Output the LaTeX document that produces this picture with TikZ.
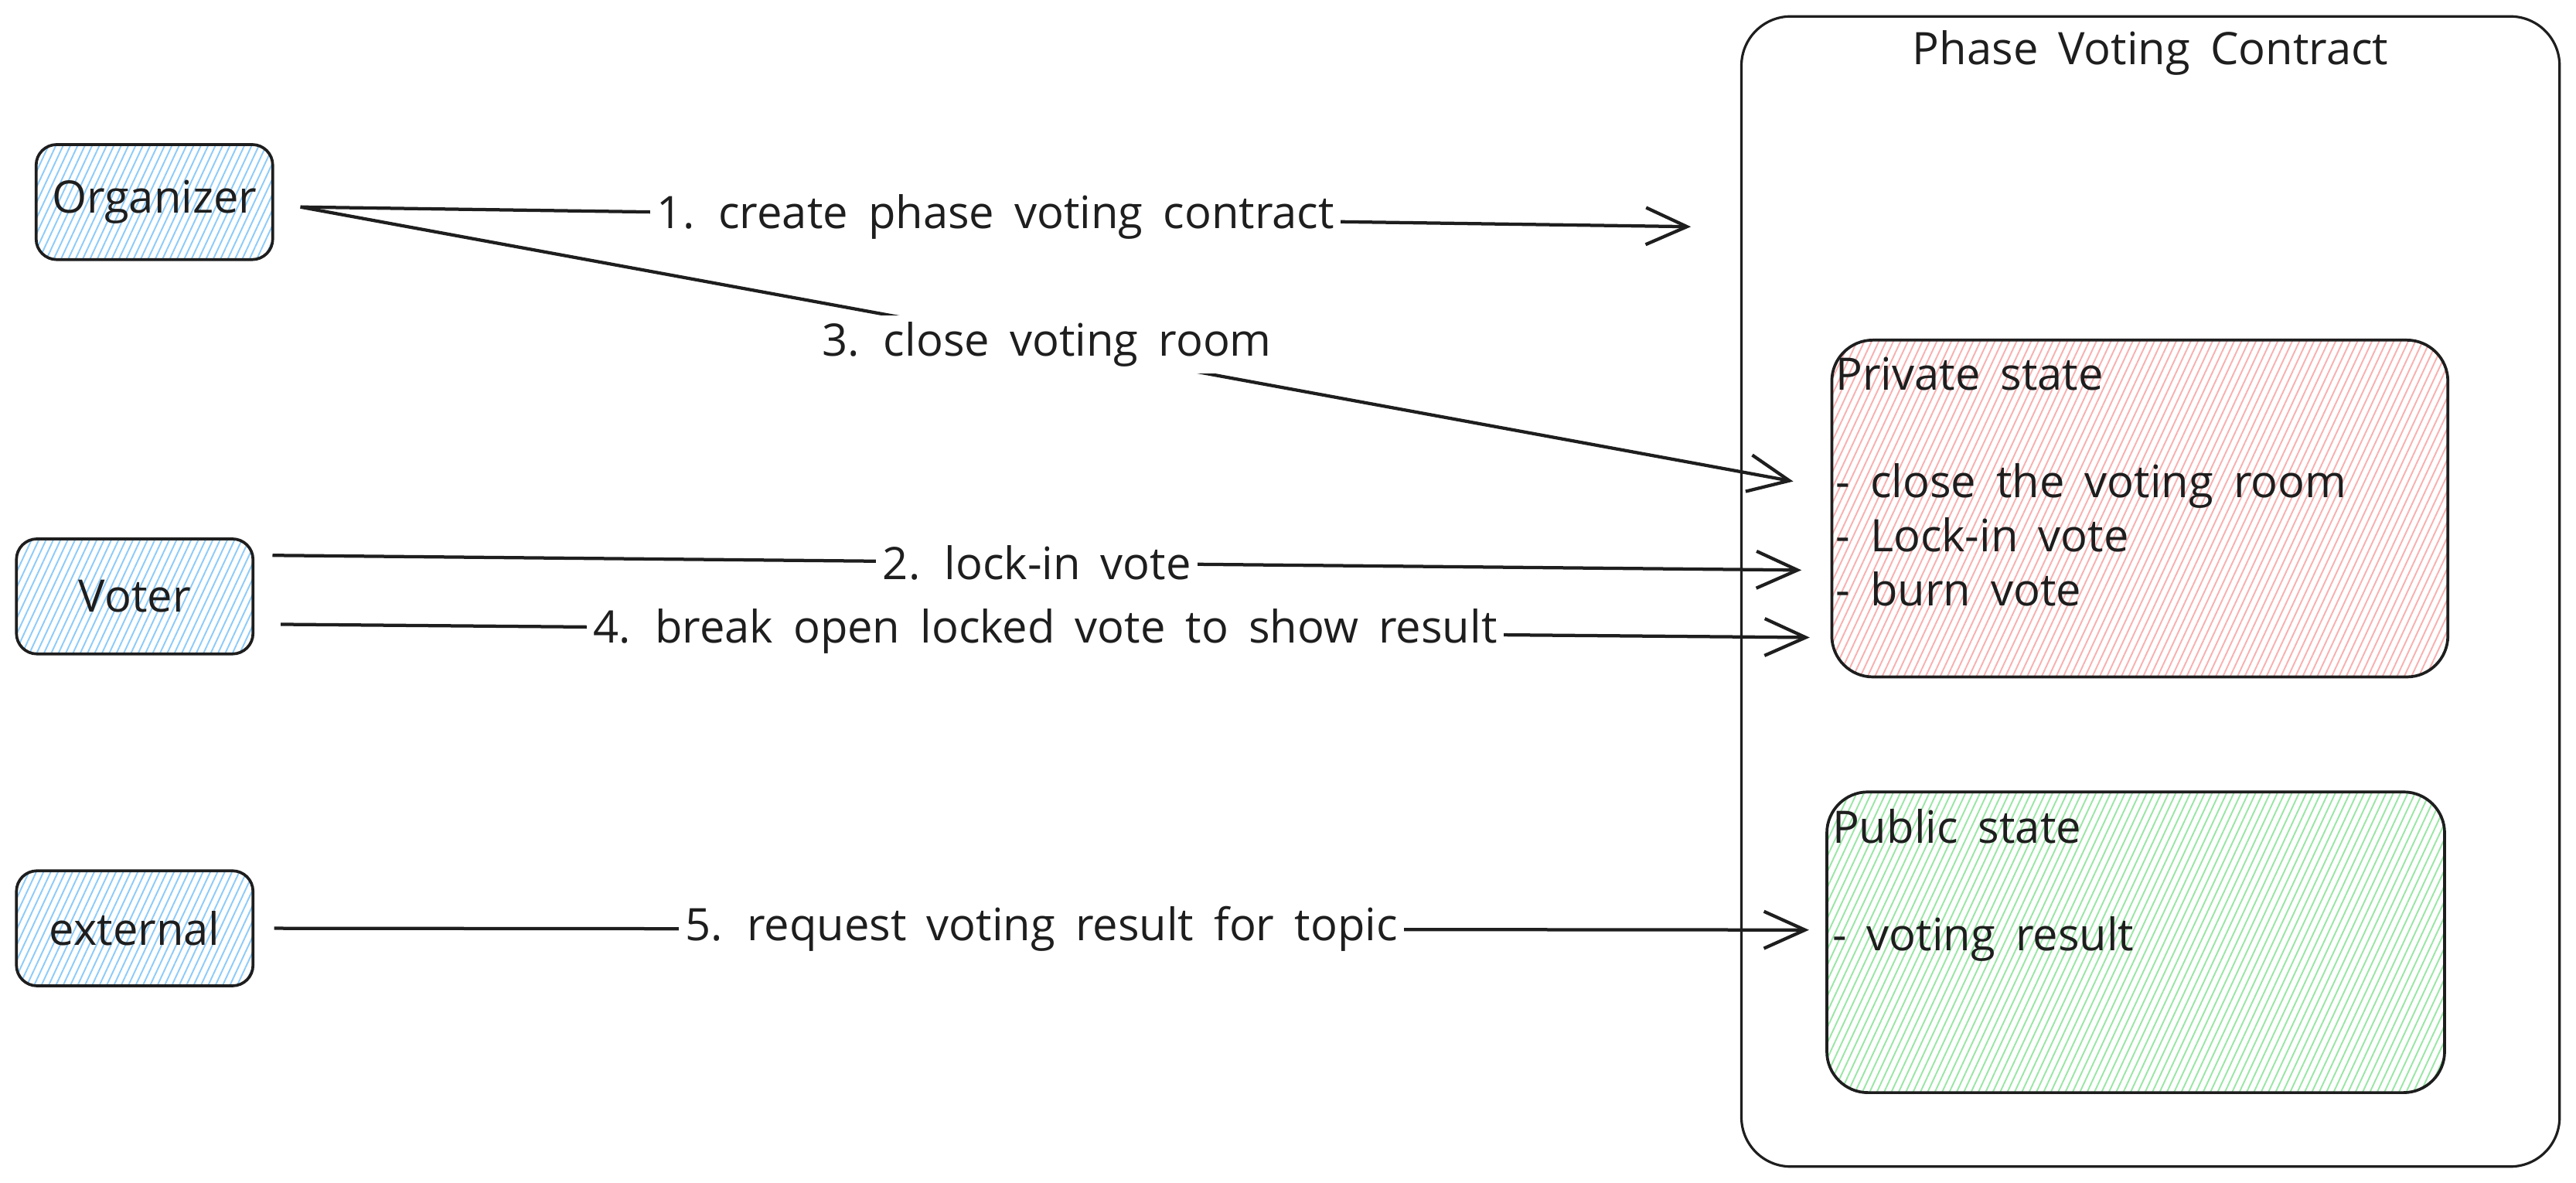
\documentclass[tikz,border=0pt]{standalone}
\usepackage{fontspec}
\setmainfont{Open Sans}
\usetikzlibrary{arrows.meta,patterns.meta,positioning}
\definecolor{ink}{HTML}{1E1E1E}
\definecolor{hblue}{HTML}{8CCBFA}
\definecolor{hred}{HTML}{F9AFAF}
\definecolor{hgreen}{HTML}{98E6A4}
\def\hand{\fontsize{15.5}{18.7}\selectfont\spaceskip=0.45em plus 0.1em}
\tikzset{
	actor/.style={draw=ink, line width=0.35mm, rounded corners=2.5mm, minimum width=28.8mm, minimum height=14mm, pattern={Lines[angle=65,distance=0.8mm,line width=0.18mm]}, pattern color=hblue, text=ink, font=\hand},
	statebox/.style={draw=ink, line width=0.35mm, rounded corners=5mm, pattern={Lines[angle=65,distance=0.8mm,line width=0.18mm]}},
	msg/.style={draw=ink, line width=0.4mm, -{Straight Barb[length=5mm,width=4.5mm,line width=0.4mm]}},
	msglabel/.style={midway, fill=white, inner sep=0.8mm, text=ink, font=\hand},
	listtext/.style={inner sep=0, align=left, text=ink, font=\hand}
}
\begin{document}
\begin{tikzpicture}[x=0.2mm, y=0.2mm]
			%%%%% START %%%%%
			\useasboundingbox (0, 0) rectangle (1568, 720);
			
			% the contract and its two states
			\node[draw=ink, line width=0.3mm, rounded corners=6mm, minimum width=99.6mm, minimum height=140mm] (contract) at (1309, 360) {};
			\node[text=ink, font=\hand, below=0.6mm of contract.north] (title) {Phase Voting Contract};
			
			\node[statebox, pattern color=hred, minimum width=75mm, minimum height=41mm] (priv) at (1302.5, 410.5) {};
			\node[listtext, anchor=north west] (privtext) at (1117, 503) {Private state\\ \\- close the voting room\\- Lock-in vote\\- burn vote};
			
			\node[statebox, pattern color=hgreen, minimum width=75.2mm, minimum height=36.6mm] (pub) at (1300, 146.5) {};
			\node[listtext, anchor=north west] (pubtext) at (1115, 228) {Public state\\ \\- voting result};
			
			% who talks to it
			\node[actor] (org) at (94, 597) {Organizer};
			\node[actor] (voter) at (82, 357) {Voter};
			\node[actor] (ext) at (82, 155) {external};
			
			\coordinate (c1) at ([xshift=-6mm, yshift=44.4mm]contract.west);
			\coordinate (c3) at ([xshift=-4.6mm, yshift=3.3mm]priv.west);
			\coordinate (c2) at ([xshift=-3.6mm, yshift=-7.5mm]priv.west);
			\coordinate (c4) at ([xshift=-2.6mm, yshift=-15.7mm]priv.west);
			\coordinate (c5) at ([xshift=-2mm, yshift=1.5mm]pub.west);
			
			\draw[msg] ([xshift=3.2mm, yshift=-0.6mm]org.east) -- (c1) node[msglabel] {1. create phase voting contract};
			\draw[msg] ([xshift=3.2mm, yshift=-0.6mm]org.east) -- (c3) node[msglabel] {3. close voting room};
			\draw[msg] ([xshift=2.2mm, yshift=5mm]voter.east) -- (c2) node[msglabel] {2. lock-in vote};
			\draw[msg] ([xshift=3.2mm, yshift=-3.4mm]voter.east) -- (c4) node[msglabel] {4. break open locked vote to show result};
			\draw[msg] ([xshift=2.4mm]ext.east) -- (c5) node[msglabel] {5. request voting result for topic};
			%%%%% END %%%%%
\end{tikzpicture}
\end{document}
